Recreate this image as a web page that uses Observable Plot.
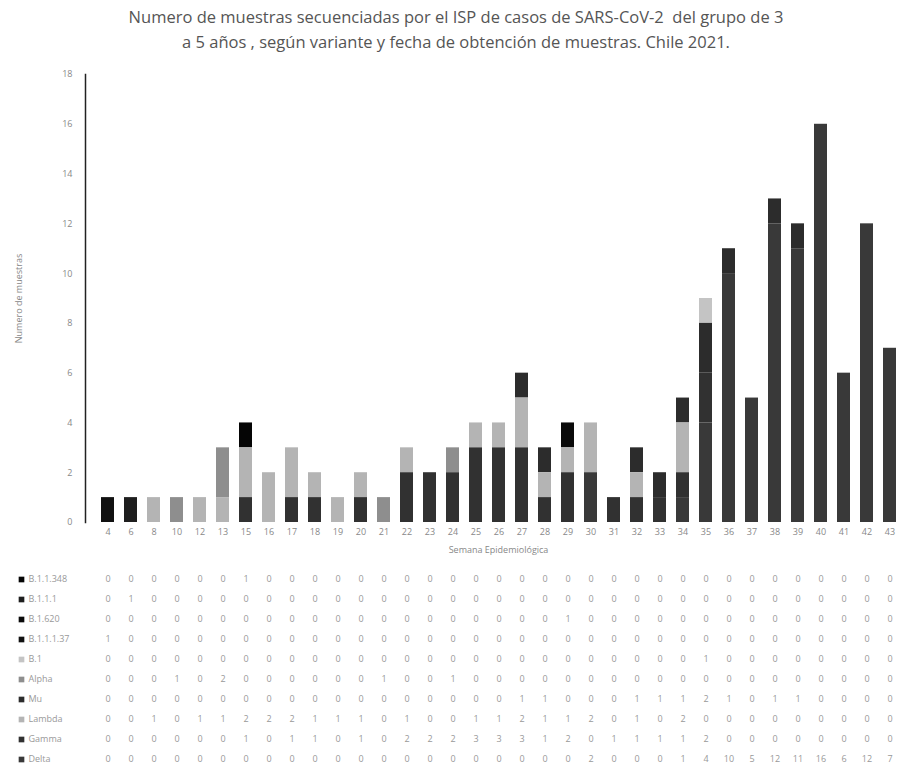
<!DOCTYPE html>
<html><head><meta charset="utf-8">
<script src="https://cdn.jsdelivr.net/npm/d3@7"></script>
<script src="https://cdn.jsdelivr.net/npm/@observablehq/plot@0.6"></script>
<style>
body{margin:0;background:#fff;font-family:"Open Sans",sans-serif;}
#title{height:60px;text-align:center;color:#555;font-size:16.5px;line-height:25px;padding-top:4px;box-sizing:border-box;}
#chart svg,#table svg{display:block;}
</style></head><body>
<div id="title">Numero de muestras secuenciadas por el ISP de casos de SARS-CoV-2&nbsp; del grupo de 3<br>a 5 años , según variante y fecha de obtención de muestras. Chile 2021.</div>
<div id="chart"></div><div id="table"></div>
<script>
const weeks = [4,6,8,10,12,13,15,16,17,18,19,20,21,22,23,24,25,26,27,28,29,30,31,32,33,34,35,36,37,38,39,40,41,42,43];
const seriesNames = ["B.1.1.348","B.1.1.1","B.1.620","B.1.1.1.37","B.1","Alpha","Mu","Lambda","Gamma","Delta"];
const b11348 = [0,0,0,0,0,0,1,0,0,0,0,0,0,0,0,0,0,0,0,0,0,0,0,0,0,0,0,0,0,0,0,0,0,0,0];
const b111   = [0,1,0,0,0,0,0,0,0,0,0,0,0,0,0,0,0,0,0,0,0,0,0,0,0,0,0,0,0,0,0,0,0,0,0];
const b1620  = [0,0,0,0,0,0,0,0,0,0,0,0,0,0,0,0,0,0,0,0,1,0,0,0,0,0,0,0,0,0,0,0,0,0,0];
const b11137 = [1,0,0,0,0,0,0,0,0,0,0,0,0,0,0,0,0,0,0,0,0,0,0,0,0,0,0,0,0,0,0,0,0,0,0];
const b1     = [0,0,0,0,0,0,0,0,0,0,0,0,0,0,0,0,0,0,0,0,0,0,0,0,0,0,1,0,0,0,0,0,0,0,0];
const alpha  = [0,0,0,1,0,2,0,0,0,0,0,0,1,0,0,1,0,0,0,0,0,0,0,0,0,0,0,0,0,0,0,0,0,0,0];
const mu     = [0,0,0,0,0,0,0,0,0,0,0,0,0,0,0,0,0,0,1,1,0,0,0,1,1,1,2,1,0,1,1,0,0,0,0];
const lambda = [0,0,1,0,1,1,2,2,2,1,1,1,0,1,0,0,1,1,2,1,1,2,0,1,0,2,0,0,0,0,0,0,0,0,0];
const gamma  = [0,0,0,0,0,0,1,0,1,1,0,1,0,2,2,2,3,3,3,1,2,0,1,1,1,1,2,0,0,0,0,0,0,0,0];
const delta  = [0,0,0,0,0,0,0,0,0,0,0,0,0,0,0,0,0,0,0,0,0,2,0,0,0,1,4,10,5,12,11,16,6,12,7];
const yTicks = [0,2,4,6,8,10,12,14,16,18];

const seriesValues = [b11348,b111,b1620,b11137,b1,alpha,mu,lambda,gamma,delta];
const colors = ["#050505","#1e1e1e","#0a0a0a","#111111","#c4c4c4","#8e8e8e","#2c2c2c","#b4b4b4","#313131","#393939"];
const stackOrder = ["Delta","Gamma","Lambda","Mu","Alpha","B.1","B.1.1.1.37","B.1.620","B.1.1.1","B.1.1.348"];

const data = [];
seriesNames.forEach((s,i)=>weeks.forEach((w,j)=>data.push({series:s, week:w, value:seriesValues[i][j]})));

const colorScale = {type:"ordinal", domain:seriesNames, range:colors};

const chart = Plot.plot({
  width:912, height:500, marginLeft:85, marginRight:1, marginTop:14, marginBottom:38,
  style:{fontFamily:"Open Sans, sans-serif", background:"#fff"},
  x:{type:"band", domain:weeks, padding:0.45, range:[85,911]},
  y:{domain:[0,18], ticks:yTicks},
  color: colorScale,
  marks:[
    Plot.barY(data.filter(d=>d.value>0), {x:"week", y:"value", fill:"series", order:stackOrder}),
    Plot.frame({anchor:"left", stroke:"#222", strokeWidth:1.5}),
    Plot.axisX({tickSize:0, tickPadding:6, fontSize:9, color:"#888", label:"Semana Epidemiológica", labelAnchor:"center", labelArrow:false, labelOffset:30}),
    Plot.axisY({ticks:yTicks, tickSize:0, tickPadding:13, fontSize:9, color:"#888", label:"Numero de muestras", labelAnchor:"center", labelArrow:false, labelOffset:70})
  ]
});
document.getElementById("chart").appendChild(chart);

const table = Plot.plot({
  width:912, height:224, marginLeft:85, marginRight:1, marginTop:4, marginBottom:11,
  style:{fontFamily:"Open Sans, sans-serif", background:"#fff"},
  x:{type:"band", domain:weeks, padding:0.45, range:[85,911], axis:null},
  y:{type:"band", domain:seriesNames, padding:0, axis:null},
  color: colorScale,
  marks:[
    Plot.text(data, {x:"week", y:"series", text:"value", fontSize:9, fill:"#999"}),
    Plot.dot(seriesNames, {y:d=>d, frameAnchor:"left", dx:-64, symbol:"square", r:3.2, fill:d=>d}),
    Plot.text(seriesNames, {y:d=>d, frameAnchor:"left", dx:-57, textAnchor:"start", text:d=>d, fontSize:9, fill:"#999"})
  ]
});
document.getElementById("table").appendChild(table);
</script>
</body></html>
